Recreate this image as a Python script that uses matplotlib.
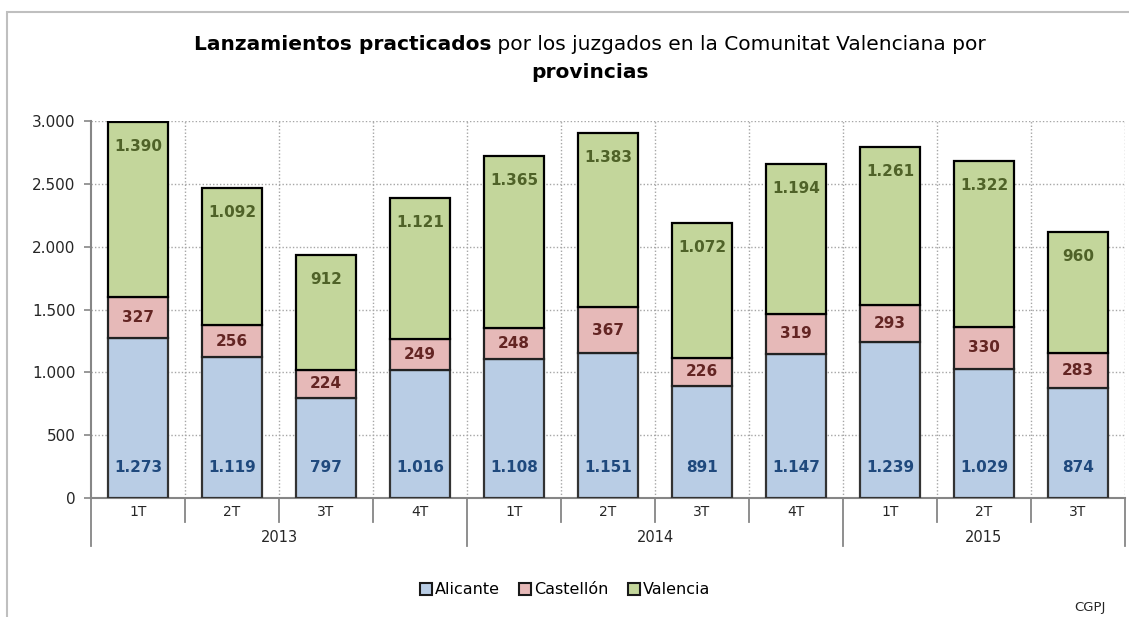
import numpy as np
import matplotlib.pyplot as plt
from matplotlib.patches import Rectangle
from matplotlib.lines import Line2D
import matplotlib.transforms as mtransforms

plt.rcParams['font.family'] = ['DejaVu Sans']

# ---------- datos ----------
trimestres = ['1T', '2T', '3T', '4T', '1T', '2T', '3T', '4T', '1T', '2T', '3T']
anios = ['2013', '2014', '2015']
n_por_anio = [4, 4, 3]
alicante = [1273, 1119, 797, 1016, 1108, 1151, 891, 1147, 1239, 1029, 874]
castellon = [327, 256, 224, 249, 248, 367, 226, 319, 293, 330, 283]
valencia = [1390, 1092, 912, 1121, 1365, 1383, 1072, 1194, 1261, 1322, 960]
yticks = [0, 500, 1000, 1500, 2000, 2500, 3000]

c_ali, c_cas, c_val = '#b9cde5', '#e6b9b8', '#c3d69b'
t_ali, t_cas, t_val = '#1f497d', '#632523', '#4f6228'
gris = '#868686'

def fmt(v):
    return f"{v:,}".replace(",", ".")

W, H = 1129, 617
fig = plt.figure(figsize=(W / 100, H / 100), dpi=100)
ax = fig.add_axes([91 / W, 1 - 498 / H, (1125 - 91) / W, (498 - 121) / H])

# marco del gráfico
fig.patches.append(Rectangle((7 / W, -0.1), 1.2, 1 - 12 / H + 0.1, transform=fig.transFigure,
                             fill=False, edgecolor='#bfbfbf', linewidth=1.5))

x = np.arange(len(trimestres))
ali = np.array(alicante)
cas = np.array(castellon)
val = np.array(valencia)
bw = 0.63
kw = dict(width=bw, linewidth=1.6, zorder=3)
ax.bar(x, ali, color=c_ali, edgecolor='#333333', **kw)
ax.bar(x, cas, bottom=ali, color=c_cas, edgecolor='#222222', **kw)
ax.bar(x, val, bottom=ali + cas, color=c_val, edgecolor='#000000', **kw)

lab = dict(ha='center', va='center', fontsize=11, fontweight='bold', zorder=4)
for i in range(len(x)):
    ax.text(x[i], 240, fmt(ali[i]), color=t_ali, **lab)
    ax.text(x[i], ali[i] + cas[i] / 2, fmt(cas[i]), color=t_cas, **lab)
    ax.text(x[i], ali[i] + cas[i] + val[i] - 195, fmt(val[i]), color=t_val, **lab)

ax.set_xlim(-0.5, len(x) - 0.5)
ax.set_ylim(0, 3000)
ax.set_yticks(yticks)
ax.set_yticklabels([fmt(v) for v in yticks], fontsize=11, color='#262626')
ax.tick_params(axis='y', length=5, width=1.2, color=gris, pad=6)
ax.set_xticks([])

# rejilla punteada
for v in yticks[1:]:
    ax.axhline(v, color='#a6a6a6', linestyle=(0, (1, 1.5)), linewidth=1, zorder=1)
for b in np.arange(0.5, len(x) + 0.5, 1):
    ax.axvline(b, color='#a6a6a6', linestyle=(0, (1, 1.5)), linewidth=1, zorder=1)

for s in ['top', 'right']:
    ax.spines[s].set_visible(False)
for s in ['left', 'bottom']:
    ax.spines[s].set_color(gris)
    ax.spines[s].set_linewidth(1.5)

# eje de categorías en dos niveles
trans = mtransforms.blended_transform_factory(ax.transData, ax.transAxes)
y1 = -(522 - 498) / 377
y2 = -(546 - 498) / 377
for i, t in enumerate(trimestres):
    ax.text(x[i], -(512 - 498) / 377, t, transform=trans, ha='center', va='center',
            fontsize=10, color='#262626')
inicio = 0
limites_anio = [-0.5]
for a, n in zip(anios, n_por_anio):
    for k in range(1, n):
        b = inicio + k - 0.5
        ax.add_line(Line2D([b, b], [0, y1], transform=trans, color=gris, lw=1.3, clip_on=False))
    ax.text(inicio + (n - 1) / 2, -(537 - 498) / 377, a, transform=trans, ha='center', va='center',
            fontsize=10.5, color='#262626')
    inicio += n
    limites_anio.append(inicio - 0.5)
for b in limites_anio:
    ax.add_line(Line2D([b, b], [0, y2], transform=trans, color=gris, lw=1.3, clip_on=False))

# título con partes en negrita
fig.canvas.draw()
r = fig.canvas.get_renderer()
partes = [('Lanzamientos practicados', 'bold'), (' por los juzgados en la Comunitat Valenciana por', 'normal')]
tam = 14.5
txts = [fig.text(0, 0, p, fontsize=tam, fontweight=w) for p, w in partes]
anchos = [t.get_window_extent(r).width for t in txts]
x0 = 590 - sum(anchos) / 2
for t, w in zip(txts, anchos):
    t.set_position((x0 / W, 1 - 45 / H))
    t.set_va('center')
    x0 += w
fig.text(590 / W, 1 - 72 / H, 'provincias', fontsize=tam, fontweight='bold', ha='center', va='center')

# leyenda
handles = [Rectangle((0, 0), 1, 1, facecolor=c, edgecolor='#1a1a1a', linewidth=1.5)
           for c in [c_ali, c_cas, c_val]]
fig.legend(handles, ['Alicante', 'Castellón', 'Valencia'], loc='center',
           bbox_to_anchor=(565 / W, 1 - 590 / H), ncol=3, frameon=False, fontsize=11.5,
           handlelength=0.75, handleheight=0.75, handletextpad=0.2, columnspacing=1.2)

fig.text(1090 / W, 1 - 608 / H, 'CGPJ', fontsize=9.5, ha='center', va='center', color='#262626')

fig.savefig('out.png', dpi=100)
